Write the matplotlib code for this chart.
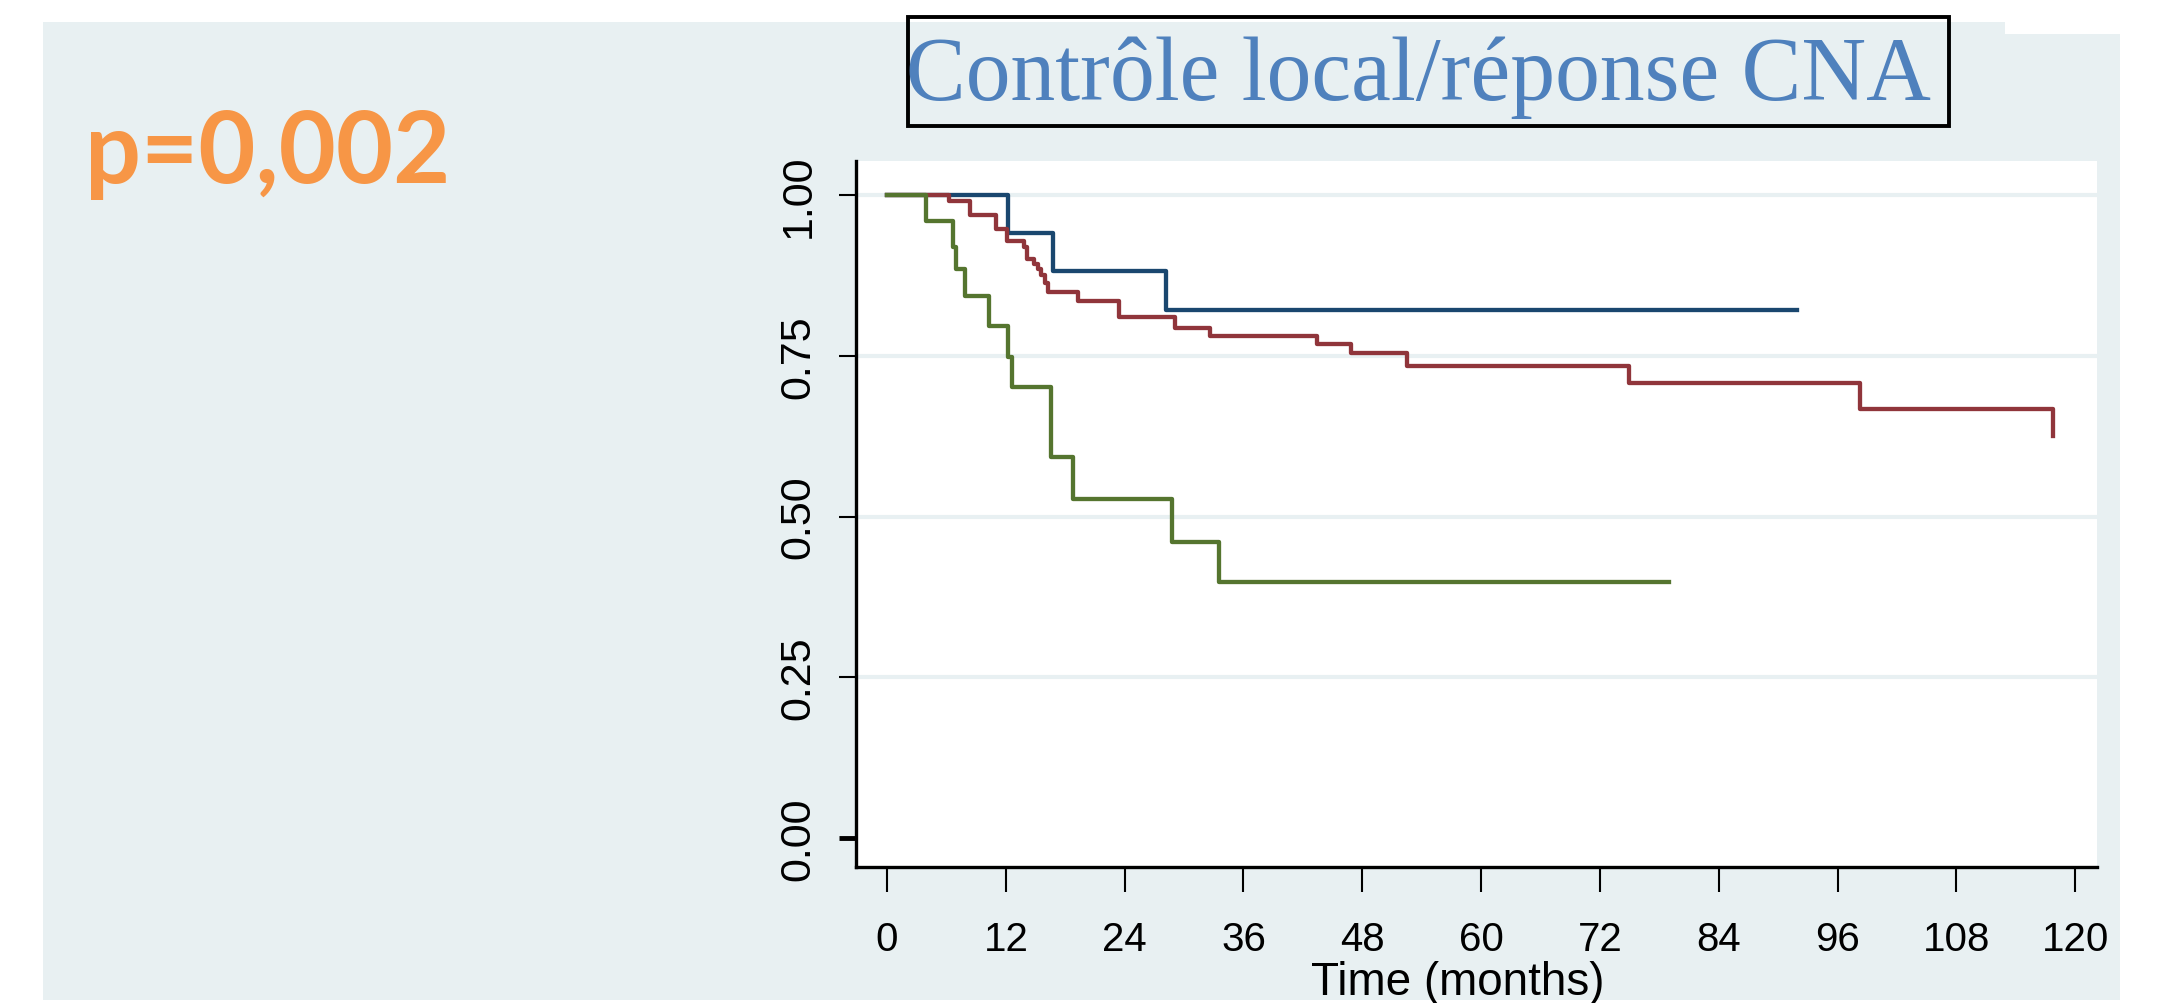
import matplotlib
matplotlib.use("Agg")
import matplotlib.pyplot as plt
from matplotlib import font_manager
from matplotlib.patches import Polygon, Rectangle

# ---------------- data ----------------
green_t = [0, 3.9, 6.7, 7.0, 7.9, 10.3, 12.2, 12.6, 16.6, 18.8, 28.8, 33.5, 79.0]
green_s = [1.00, 0.96, 0.92, 0.885, 0.843, 0.797, 0.748, 0.701, 0.593, 0.527, 0.460, 0.398, 0.398]

blue_t = [0, 12.2, 16.8, 28.2, 91.9]
blue_s = [1.00, 0.941, 0.882, 0.822, 0.822]

red_t = [0, 6.3, 8.4, 11.0, 12.1, 13.8, 14.1, 14.8, 15.3, 15.6, 16.0, 16.3, 19.3, 23.4,
         29.1, 32.6, 43.4, 46.9, 52.5, 74.9, 98.3, 117.8]
red_s = [1.00, 0.991, 0.969, 0.948, 0.929, 0.919, 0.900, 0.893, 0.885, 0.875, 0.864, 0.849,
         0.836, 0.810, 0.794, 0.781, 0.768, 0.754, 0.734, 0.708, 0.667, 0.626]

x_ticks = [0, 12, 24, 36, 48, 60, 72, 84, 96, 108, 120]
y_ticks = [0.00, 0.25, 0.50, 0.75, 1.00]
y_tick_labels = ["0.00", "0.25", "0.50", "0.75", "1.00"]
title_text = "Contrôle local/réponse CNA"
pvalue_text = "p=0,002"
x_label = "Time (months)"

# ---------------- layout ----------------
W, H = 2157, 1004
fig = plt.figure(figsize=(W / 100, H / 100), dpi=100)
fig.patch.set_facecolor("white")

def fx(x):
    return x / W

def fy(y):
    return 1 - y / H

panel_col = "#e8f0f2"
panel = Polygon([(fx(43), fy(23)), (fx(2005), fy(23)), (fx(2005), fy(35)),
                 (fx(2120), fy(35)), (fx(2120), fy(1001)), (fx(43), fy(1001))],
                closed=True, transform=fig.transFigure, facecolor=panel_col,
                edgecolor="none", zorder=-5)
fig.patches.append(panel)

names = {f.name for f in font_manager.fontManager.ttflist}
narrow = "Liberation Sans Narrow" in names
cond_family = "Liberation Sans Narrow" if narrow else "Liberation Sans"
tick_size = 35 if narrow else 29
label_size = 40 if narrow else 33

# title box (top edge clipped by panel top)
box = Rectangle((fx(908), fy(127)), fx(1949) - fx(908), fy(18) - fy(127),
                transform=fig.transFigure, facecolor="none", edgecolor="black",
                linewidth=2.8, zorder=2)
fig.patches.append(box)
fig.text(fx(1418), fy(100), title_text, family="Liberation Serif", fontsize=64.5,
         color="#4f81bd", ha="center", va="baseline", zorder=3)

fig.text(fx(85), fy(183), pvalue_text, family=["Lato", "DejaVu Sans"], fontweight="bold",
         fontsize=71, color="#f79646", ha="left", va="baseline")

ax = fig.add_axes([fx(856), fy(868), fx(2097) - fx(856), fy(162) - fy(868)])
ax.set_zorder(1)
ax.set_facecolor("white")
ax.set_xlim(-3.13, 122.2)
ax.set_ylim(-0.045, 1.053)

for v in y_ticks[1:]:
    ax.axhline(v, color=panel_col, linewidth=3, zorder=1)

lw = 3.1
ax.step(blue_t, blue_s, where="post", color="#1a476f", linewidth=lw, zorder=3)
ax.step(red_t, red_s, where="post", color="#90353b", linewidth=lw, zorder=4)
ax.step(green_t, green_s, where="post", color="#55752f", linewidth=lw, zorder=5)

for s in ["top", "right"]:
    ax.spines[s].set_visible(False)
for s in ["left", "bottom"]:
    ax.spines[s].set_linewidth(2.4)
    ax.spines[s].set_color("black")

ax.set_xticks(x_ticks)
ax.set_xticklabels([str(t) for t in x_ticks], family=cond_family, fontsize=tick_size)
ax.set_yticks(y_ticks)
ax.set_yticklabels(y_tick_labels, rotation=90, va="center", family="Liberation Sans",
                   fontsize=31)
ax.tick_params(axis="x", direction="out", length=18, width=1.5, pad=20, colors="black")
ax.tick_params(axis="y", direction="out", length=12, width=1.5, pad=15, colors="black")
ax.yaxis.get_major_ticks()[0].tick1line.set_markeredgewidth(3.5)

ax.set_xlabel(x_label, family=cond_family, fontsize=label_size)
ax.xaxis.set_label_coords((1458 - 856) / (2097 - 856), (868 - 983) / (868 - 162))
ax.xaxis.label.set_va("center")

fig.savefig("out.png", dpi=100, facecolor="white")
